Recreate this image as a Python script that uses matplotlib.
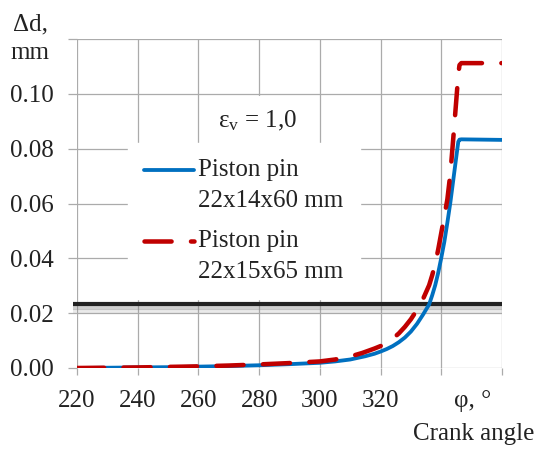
import matplotlib
matplotlib.use("Agg")
import matplotlib.pyplot as plt
import matplotlib.patheffects as pe
from matplotlib.legend_handler import HandlerLine2D

plt.rcParams['font.family'] = ['Liberation Serif', 'DejaVu Serif']
plt.rcParams['mathtext.fontset'] = 'custom'
plt.rcParams['mathtext.rm'] = 'Liberation Serif'
plt.rcParams['mathtext.it'] = 'Liberation Serif:italic'

# ---- data ----
phi_blue = [220, 230, 240, 250, 260, 270, 280, 290, 300, 305, 310, 315, 318, 320, 322, 324,
            326, 328, 330, 332, 334, 336, 337, 338, 339, 340, 341, 342, 343, 344, 345,
            345.6, 346, 346.6, 360]
d_blue = [0.0000, 0.0001, 0.0002, 0.0003, 0.0005, 0.0007, 0.0010, 0.0014, 0.0019, 0.0024,
          0.0031, 0.0043, 0.0052, 0.0060, 0.0069, 0.0080, 0.0094, 0.0111, 0.0133, 0.0161,
          0.0195, 0.0232, 0.0265, 0.0302, 0.0348, 0.0402, 0.0460, 0.0530, 0.0605, 0.0690,
          0.0775, 0.0825, 0.0833, 0.0834, 0.0832]

phi_red = [220, 230, 240, 250, 260, 270, 280, 290, 300, 305, 310, 314, 318, 320, 322, 324,
           326, 328, 330, 332, 334, 336, 337, 338, 339, 340, 341, 342, 343, 344, 345,
           345.6, 346, 346.6, 360]
d_red = [0.0000, 0.0001, 0.0002, 0.0004, 0.0006, 0.0009, 0.0013, 0.0018, 0.0024, 0.0031,
         0.0042, 0.0055, 0.0071, 0.0080, 0.0092, 0.0107, 0.0126, 0.0150, 0.0178, 0.0212,
         0.0252, 0.0302, 0.0338, 0.0380, 0.0433, 0.0493, 0.0553, 0.0615, 0.0710, 0.0845,
         0.0985, 0.1070, 0.1105, 0.1112, 0.1112]

phi_limit = [218.7, 360]
d_limit = [0.0233, 0.0233]

label_blue = "Piston pin\n22x14x60 mm"
label_red = "Piston pin\n22x15x65 mm"

x_ticks = [220, 240, 260, 280, 300, 320, 340, 360]
x_ticklabels = ["220", "240", "260", "280", "300", "320", "", ""]
y_ticks = [0.00, 0.02, 0.04, 0.06, 0.08, 0.10, 0.12]
y_ticklabels = ["0.00", "0.02", "0.04", "0.06", "0.08", "0.10", ""]

FS = 18
GRID = '#ABABAB'
TXT = '#222222'

fig = plt.figure(figsize=(5.41, 4.49), dpi=100)
ax = fig.add_axes([77/541, 1 - 368/449, 425/541, 329/449])

ax.set_xlim(220, 360)
ax.set_ylim(0, 0.12)
for s in ax.spines.values():
    s.set_visible(False)
ax.set_xticks(x_ticks)
ax.set_xticklabels(x_ticklabels)
ax.set_yticks(y_ticks)
ax.set_yticklabels(y_ticklabels)
ax.tick_params(axis='both', colors=GRID, labelcolor=TXT, labelsize=FS, width=0.9)
ax.tick_params(axis='y', length=6.5, pad=10)
ax.tick_params(axis='x', length=5, pad=11)
ax.grid(True, color=GRID, linewidth=0.9, zorder=0)
ax.set_axisbelow(True)

ax.plot(phi_limit, d_limit, color='#222222', lw=3, solid_capstyle='butt', clip_on=False, zorder=3,
        path_effects=[pe.SimpleLineShadow(offset=(0, -3), shadow_color='#777777', alpha=0.35),
                      pe.SimpleLineShadow(offset=(0, -5), shadow_color='#999999', alpha=0.2),
                      pe.Normal()])

l_blue, = ax.plot(phi_blue, d_blue, color='#0070C0', lw=2.75, solid_joinstyle='round',
                  solid_capstyle='round', zorder=4, label=label_blue)
l_red, = ax.plot(phi_red, d_red, color='#C00000', lw=3.25, ls=(0, (6, 4.3)),
                 dash_capstyle='round', dash_joinstyle='round', zorder=5, label=label_red)


class TopHandler(HandlerLine2D):
    def create_artists(self, legend, orig_handle, xdescent, ydescent, width, height, fontsize, trans):
        arts = super().create_artists(legend, orig_handle, xdescent, ydescent, width, height,
                                      fontsize, trans)
        for a in arts:
            a.set_ydata([y + 0.62 * fontsize for y in a.get_ydata()])
        return arts


leg = ax.legend(handles=[l_blue, l_red], loc='upper left', bbox_to_anchor=(0.12, 0.684),
                fontsize=FS, frameon=True, fancybox=False, framealpha=1, edgecolor='white',
                borderpad=0.65, handlelength=2.0, handletextpad=0.15, labelspacing=0.75,
                borderaxespad=0, handler_map={l_blue: TopHandler(), l_red: TopHandler()})
leg.set_zorder(6)
for t in leg.get_texts():
    t.set_color(TXT)
    t.set_linespacing(1.5)

ax.text(279.3, 0.0902, r'ε$_\mathrm{v}$ = 1,0', fontsize=FS, color=TXT, ha='center',
        va='center', zorder=6,
        bbox=dict(boxstyle='square,pad=0.5', facecolor='white', edgecolor='none'))

fig.text(30/541, 1 - 24/449, 'Δd,', fontsize=FS, color=TXT, ha='center', va='center')
fig.text(30/541, 1 - 53/449, 'mm', fontsize=FS, color=TXT, ha='center', va='center')
fig.text(473/541, 1 - 401/449, 'φ, °', fontsize=FS, color=TXT, ha='center', va='center')
fig.text(474/541, 1 - 434/449, 'Crank angle', fontsize=FS, color=TXT, ha='center', va='center')

fig.savefig('out.png', dpi=100)
